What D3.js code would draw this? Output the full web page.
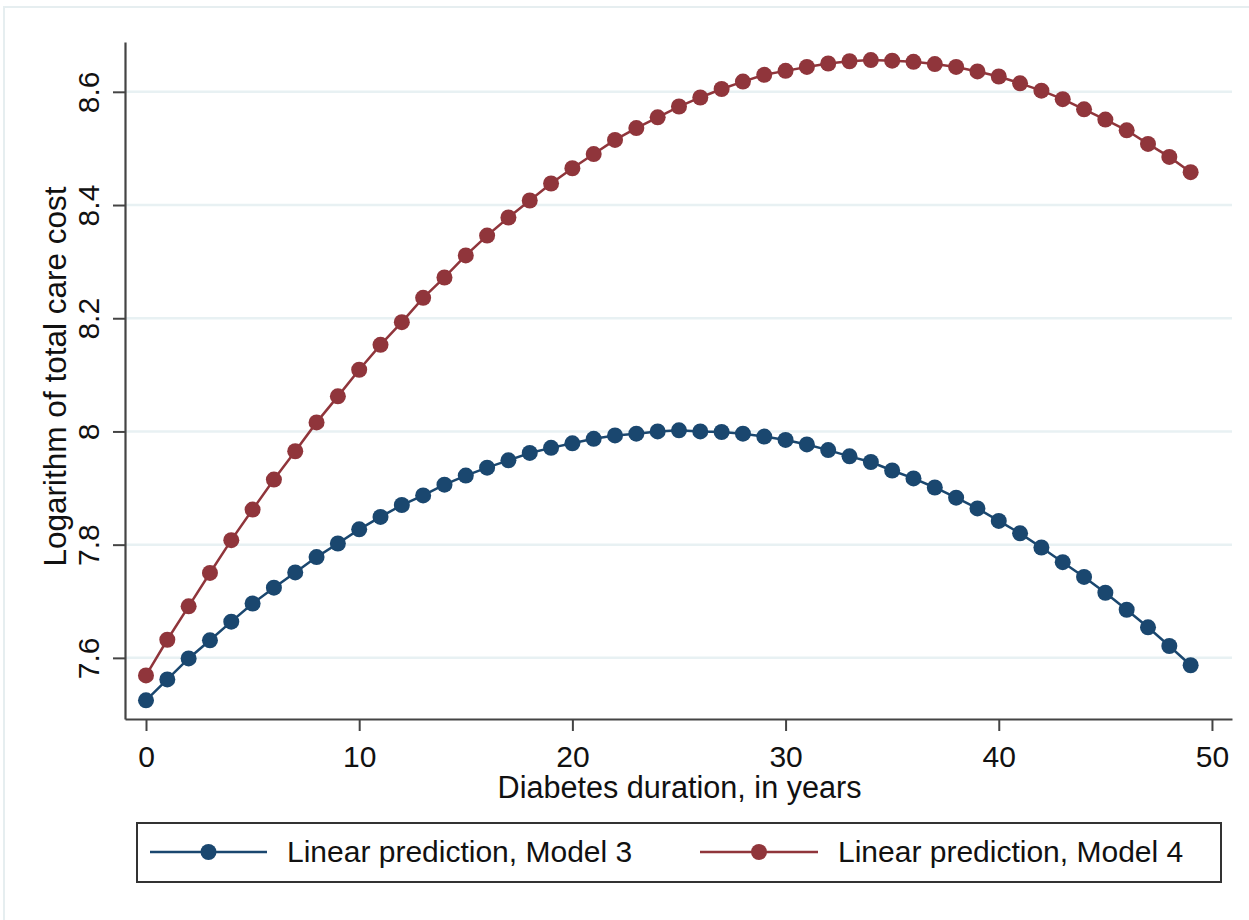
<!DOCTYPE html>
<html>
<head>
<meta charset="utf-8">
<script src="https://cdn.jsdelivr.net/npm/d3@7"></script>
<style>
  html, body { margin: 0; padding: 0; background: #fff; }
  svg { display: block; font-family: "Liberation Sans", Arial, sans-serif; }
</style>
</head>
<body>
<svg id="chart"></svg>
<script>
const years = [0, 1, 2, 3, 4, 5, 6, 7, 8, 9, 10, 11, 12, 13, 14, 15, 16, 17, 18, 19,
  20, 21, 22, 23, 24, 25, 26, 27, 28, 29, 30, 31, 32, 33, 34, 35, 36, 37, 38, 39,
  40, 41, 42, 43, 44, 45, 46, 47, 48, 49];

const model3 = [7.525, 7.562, 7.599, 7.631, 7.664, 7.696, 7.724, 7.751, 7.778, 7.802,
  7.827, 7.849, 7.870, 7.887, 7.906, 7.922, 7.936, 7.949, 7.962, 7.971,
  7.979, 7.987, 7.993, 7.996, 8.000, 8.002, 8.000, 7.999, 7.996, 7.991,
  7.985, 7.977, 7.967, 7.956, 7.946, 7.931, 7.917, 7.901, 7.883, 7.864,
  7.842, 7.820, 7.795, 7.769, 7.743, 7.715, 7.685, 7.654, 7.621, 7.587];

const model4 = [7.569, 7.632, 7.691, 7.750, 7.808, 7.862, 7.915, 7.965, 8.016, 8.062,
  8.109, 8.153, 8.193, 8.236, 8.272, 8.311, 8.346, 8.378, 8.408, 8.438,
  8.465, 8.490, 8.515, 8.536, 8.555, 8.574, 8.590, 8.605, 8.618, 8.630,
  8.637, 8.644, 8.650, 8.654, 8.656, 8.655, 8.653, 8.649, 8.644, 8.636,
  8.627, 8.615, 8.602, 8.587, 8.569, 8.551, 8.532, 8.508, 8.485, 8.458];

const seriesNames = ['Linear prediction, Model 3', 'Linear prediction, Model 4'];
const xTicks = [0, 10, 20, 30, 40, 50];
const yTicks = [7.6, 7.8, 8, 8.2, 8.4, 8.6];
const yTickLabels = ['7.6', '7.8', '8', '8.2', '8.4', '8.6'];
const xTitle = 'Diabetes duration, in years';
const yTitle = 'Logarithm of total care cost';

const width = 1249;
const height = 920;
const plot = { left: 125, right: 1232, top: 42, bottom: 719 };
const colors = ['#1a476f', '#90353b'];

const x = d3.scaleLinear()
  .domain([-0.985, 50.94])
  .range([plot.left, plot.right]);

const y = d3.scaleLinear()
  .domain([7.492, 8.688])
  .range([plot.bottom, plot.top]);

const svg = d3.select('#chart')
  .attr('width', width)
  .attr('height', height);

// faint outer frame
svg.append('rect')
  .attr('x', 4).attr('y', 7)
  .attr('width', width).attr('height', height)
  .attr('fill', '#fff')
  .attr('stroke', '#e6eef0')
  .attr('stroke-width', 2);

// gridlines
svg.append('g')
  .selectAll('line')
  .data(yTicks)
  .join('line')
  .attr('x1', plot.left)
  .attr('x2', plot.right)
  .attr('y1', d => y(d))
  .attr('y2', d => y(d))
  .attr('stroke', '#e8f1f3')
  .attr('stroke-width', 2.5);

// y axis
const yAxis = svg.append('g')
  .attr('transform', `translate(${plot.left},0)`)
  .call(d3.axisLeft(y).tickValues(yTicks).tickSize(12).tickSizeOuter(0)
    .tickFormat((d, i) => yTickLabels[i]));
yAxis.select('.domain').attr('stroke', '#444').attr('stroke-width', 2.2);
yAxis.selectAll('.tick line').attr('stroke', '#444').attr('stroke-width', 2);
yAxis.selectAll('.tick text')
  .attr('x', null).attr('dy', null)
  .attr('transform', 'translate(-26,0) rotate(-90)')
  .attr('text-anchor', 'middle')
  .attr('font-size', 30)
  .attr('font-family', '"Liberation Sans", Arial, sans-serif')
  .attr('fill', '#111');

// x axis
const xAxis = svg.append('g')
  .attr('transform', `translate(0,${plot.bottom})`)
  .call(d3.axisBottom(x).tickValues(xTicks).tickSize(12).tickSizeOuter(0));
xAxis.select('.domain').attr('stroke', '#444').attr('stroke-width', 2.2);
xAxis.selectAll('.tick line').attr('stroke', '#444').attr('stroke-width', 2);
xAxis.selectAll('.tick text')
  .attr('y', 48).attr('dy', null)
  .attr('font-size', 30)
  .attr('font-family', '"Liberation Sans", Arial, sans-serif')
  .attr('fill', '#111');

// axis titles
svg.append('text')
  .attr('x', (plot.left + plot.right) / 2 + 1)
  .attr('y', 798)
  .attr('text-anchor', 'middle')
  .attr('font-size', 30.6)
  .attr('fill', '#111')
  .text(xTitle);

svg.append('text')
  .attr('transform', `translate(66,${(plot.top + plot.bottom) / 2 - 4}) rotate(-90)`)
  .attr('text-anchor', 'middle')
  .attr('font-size', 31.5)
  .attr('fill', '#111')
  .text(yTitle);

// series
const series = [model3, model4].map((vals, i) => ({
  name: seriesNames[i],
  color: colors[i],
  points: years.map((yr, j) => ({ year: yr, value: vals[j] }))
}));

const line = d3.line()
  .x(d => x(d.year))
  .y(d => y(d.value));

const serie = svg.append('g')
  .selectAll('g')
  .data(series)
  .join('g');

serie.append('path')
  .attr('fill', 'none')
  .attr('stroke', d => d.color)
  .attr('stroke-width', 2.5)
  .attr('d', d => line(d.points));

serie.append('g')
  .selectAll('circle')
  .data(d => d.points.map(p => ({ ...p, color: d.color })))
  .join('circle')
  .attr('cx', d => x(d.year))
  .attr('cy', d => y(d.value))
  .attr('r', 8)
  .attr('fill', d => d.color);

// legend
const legend = svg.append('g');
legend.append('rect')
  .attr('x', 137).attr('y', 823)
  .attr('width', 1084).attr('height', 59)
  .attr('fill', '#fff')
  .attr('stroke', '#333')
  .attr('stroke-width', 2);

const legendItems = [
  { x0: 150, x1: 267, label: 287 },
  { x0: 700, x1: 818, label: 838 }
];

const item = legend.selectAll('g.item')
  .data(series)
  .join('g')
  .attr('class', 'item');

item.append('line')
  .attr('x1', (d, i) => legendItems[i].x0)
  .attr('x2', (d, i) => legendItems[i].x1)
  .attr('y1', 852).attr('y2', 852)
  .attr('stroke', d => d.color)
  .attr('stroke-width', 2.5);

item.append('circle')
  .attr('cx', (d, i) => (legendItems[i].x0 + legendItems[i].x1) / 2)
  .attr('cy', 852)
  .attr('r', 8)
  .attr('fill', d => d.color);

item.append('text')
  .attr('x', (d, i) => legendItems[i].label)
  .attr('y', 862)
  .attr('font-size', 30)
  .attr('fill', '#111')
  .text(d => d.name);
</script>
</body>
</html>
